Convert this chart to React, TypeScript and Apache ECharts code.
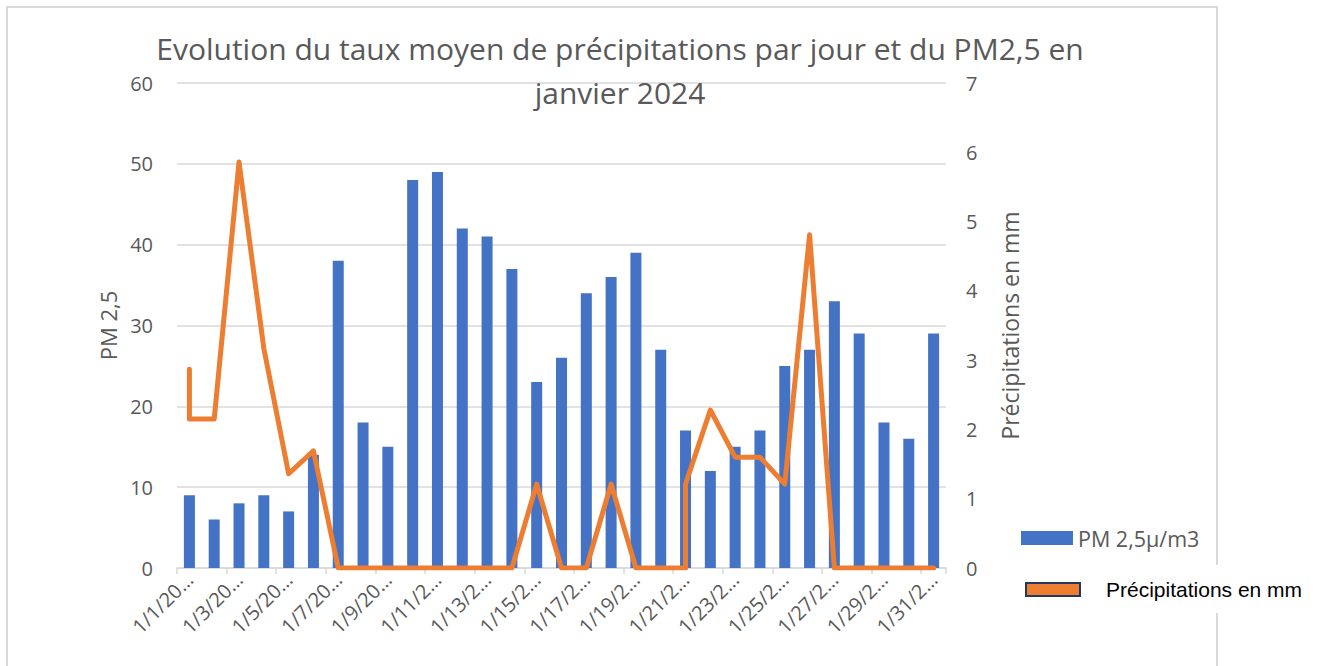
import React, { useEffect, useRef } from "react";
import * as echarts from "echarts";

const days: string[] = Array.from({ length: 31 }, (_, i) => `1/${i + 1}/2024`);

const pm25: number[] = [
  9, 6, 8, 9, 7, 14, 38, 18, 15, 48, 49, 42, 41, 37, 23, 26,
  34, 36, 39, 27, 17, 12, 15, 17, 25, 27, 33, 29, 18, 16, 29,
];

// precipitation line points (day number, mm); some days carry two readings
const precipDays: number[] = [
  1, 1, 2, 3, 4, 5, 6, 7, 8, 9, 10, 11, 12, 13, 14, 15, 16, 17, 18, 19, 20,
  21, 21, 22, 23, 24, 25, 26, 27, 28, 29, 30, 31,
];
const precipValues: number[] = [
  2.87, 2.15, 2.15, 5.86, 3.17, 1.36, 1.69, 0, 0, 0, 0, 0, 0, 0, 0, 1.21, 0, 0,
  1.21, 0, 0, 0, 1.21, 2.28, 1.6, 1.6, 1.21, 4.81, 0, 0, 0, 0, 0,
];

const leftTicks = { min: 0, max: 60, interval: 10 };
const rightTicks = { min: 0, max: 7, interval: 1 };

const titleText = "Evolution du taux moyen de précipitations par jour et du PM2,5 en\njanvier 2024";
const pmName = "PM 2,5µ/m3";
const rainName = "Précipitations en mm";

export default function App() {
  const ref = useRef<HTMLDivElement>(null);
  useEffect(() => {
    if (!ref.current) return;
    const chart = echarts.init(ref.current, undefined, { renderer: "svg" });
    const gray = "#595959";
    const font = "'Open Sans', 'Noto Sans', sans-serif";
    chart.setOption({
      animation: false,
      backgroundColor: "#fff",
      textStyle: { fontFamily: font },
      title: {
        text: titleText,
        left: 620,
        top: 26,
        padding: 0,
        textAlign: "center",
        textStyle: { fontFamily: font, fontSize: 30, fontWeight: "normal", color: gray, lineHeight: 44 },
      },
      graphic: [
        { type: "rect", z: -10, shape: { x: 7, y: 7, width: 1210, height: 720 }, style: { fill: "none", stroke: "#d9d9d9", lineWidth: 2 } },
        { type: "rect", z: -5, shape: { x: 1000, y: 565, width: 320, height: 48 }, style: { fill: "#fff" } },
      ],
      grid: { left: 177, right: 374, top: 83, bottom: 98, containLabel: false },
      legend: [
        {
          data: [{ name: pmName, icon: "rect" }],
          left: 1021,
          top: 527,
          padding: 0,
          itemWidth: 52,
          itemHeight: 14,
          textStyle: { fontFamily: font, fontSize: 21.5, color: gray },
        },
        {
          data: [
            {
              name: rainName,
              icon: "rect",
              itemStyle: { color: "#ED7D31", borderColor: "#1F3864", borderWidth: 2 },
            },
          ],
          left: 1025,
          top: 579,
          padding: 0,
          itemWidth: 54,
          itemHeight: 13,
          textStyle: { fontFamily: "'Liberation Sans', Arial, sans-serif", fontSize: 21, color: "#000", padding: [0, 0, 0, 21] },
        },
      ],
      xAxis: {
        type: "category",
        data: days,
        boundaryGap: true,
        axisLine: { lineStyle: { color: "#d9d9d9", width: 1.5 } },
        axisTick: { show: true, length: 6, lineStyle: { color: "#d9d9d9", width: 1.5 } },
        axisLabel: {
          interval: 1,
          rotate: 45,
          margin: 8,
          fontSize: 20,
          color: gray,
          fontFamily: font,
          formatter: (v: string) => v.slice(0, 6) + "…",
        },
      },
      yAxis: [
        {
          type: "value",
          ...leftTicks,
          name: "PM 2,5",
          nameLocation: "middle",
          nameGap: 58,
          nameTextStyle: { fontSize: 22, color: gray, fontFamily: font },
          axisLine: { show: false },
          axisTick: { show: false },
          axisLabel: { fontSize: 20, color: gray, margin: 24, fontFamily: font },
          splitLine: { lineStyle: { color: "#d9d9d9", width: 1.5 } },
        },
        {
          type: "value",
          ...rightTicks,
          name: "Précipitations en mm",
          nameLocation: "middle",
          nameGap: 52,
          nameTextStyle: { fontSize: 23, color: gray, fontFamily: font },
          axisLine: { show: false },
          axisTick: { show: false },
          axisLabel: { fontSize: 20, color: gray, margin: 20, fontFamily: font },
          splitLine: { show: false },
        },
      ],
      series: [
        {
          name: pmName,
          type: "bar",
          yAxisIndex: 0,
          data: pm25,
          barWidth: 11,
          itemStyle: { color: "#4472C4" },
        },
        {
          name: rainName,
          type: "line",
          yAxisIndex: 1,
          data: precipDays.map((d, i) => [d - 1, precipValues[i]]),
          showSymbol: false,
          symbol: "none",
          lineStyle: { color: "#ED7D31", width: 5, join: "round", cap: "round" },
          itemStyle: { color: "#ED7D31" },
        },
      ],
    });
    return () => chart.dispose();
  }, []);
  return (
    <div
      ref={ref}
      style={{ position: "fixed", left: 0, top: 0, width: 1320, height: 666 }}
    />
  );
}
